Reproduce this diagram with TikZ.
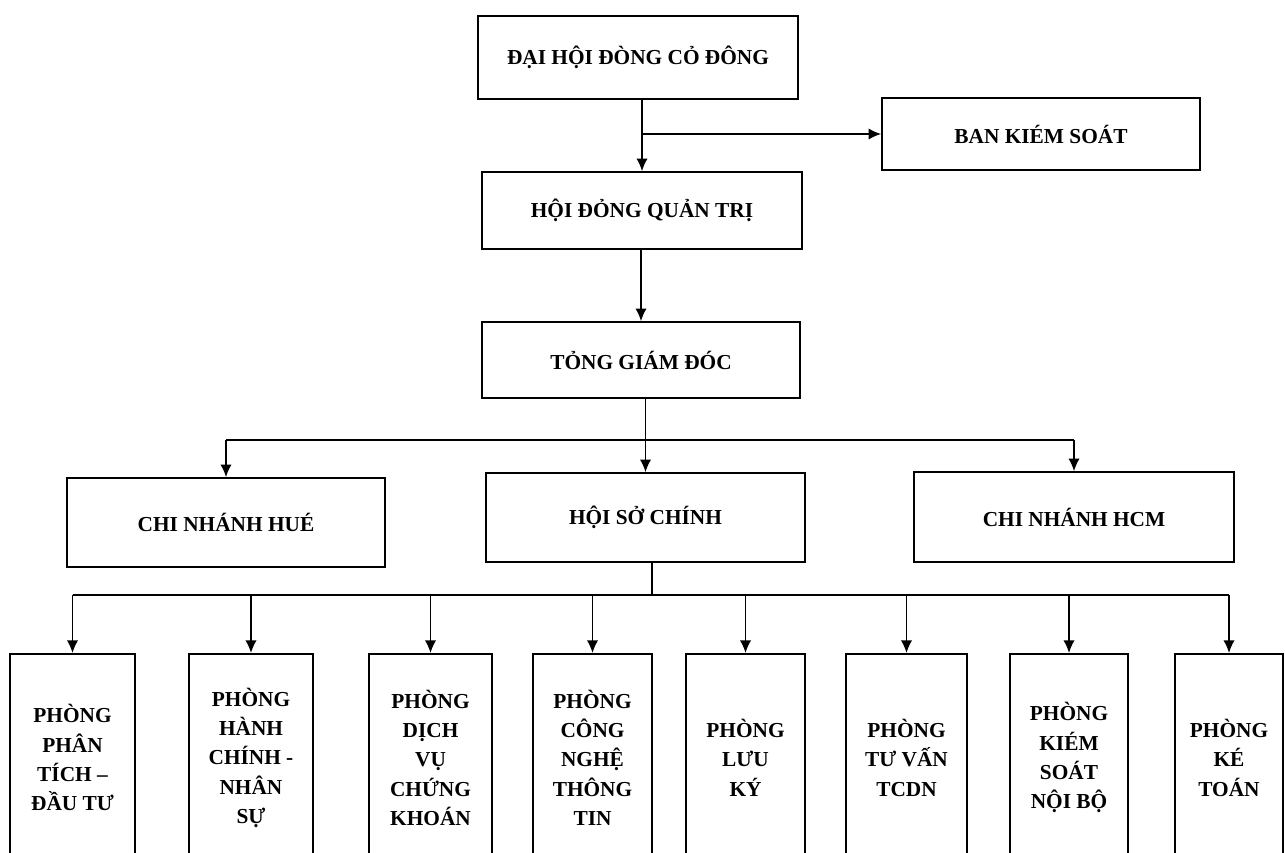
\documentclass[tikz,border=0pt]{standalone}
\usepackage{fontspec}
\setmainfont{Liberation Serif}
\usetikzlibrary{arrows.meta}
\tikzset{every picture/.style={line width=0.75pt}}

\begin{document}
\begin{tikzpicture}[x=0.75pt,y=0.75pt,yscale=-1,xscale=1,
  font=\fontsize{16}{22}\selectfont\bfseries,
  unit/.style={draw,line width=1.2pt,inner sep=0pt,align=center},
  dept/.style={unit,anchor=north,minimum height=156pt},
  arr/.style={line width=1.2pt,-{Latex[length=9.5pt,width=8.5pt]}}]
\useasboundingbox (0,0) rectangle (1285,853);
\clip (0,0) rectangle (1285,853);

%Shape: Rectangle (top levels)
\node[unit,minimum width=240pt,minimum height=62.25pt] (dhcd) at (638,57.5) {ĐẠI HỘI ĐÒNG CỎ ĐÔNG};
\node[unit,minimum width=238.5pt,minimum height=54pt] (bks) at (1041,134) {BAN KIÉM SOÁT};
\node[unit,minimum width=240pt,minimum height=57.75pt] (hdqt) at (642,210.5) {HỘI ĐỎNG QUẢN TRỊ};
\node[unit,minimum width=238.5pt,minimum height=57pt] (tgd) at (641,360) {TỎNG GIÁM ĐÓC};

%Shape: Rectangle (branches)
\node[unit,minimum width=238.5pt,minimum height=66.75pt] (hue) at (226,522.5) {CHI NHÁNH HUÉ};
\node[unit,minimum width=239.25pt,minimum height=66.75pt] (hoso) at (645.5,517.5) {HỘI SỞ CHÍNH};
\node[unit,minimum width=240pt,minimum height=67.5pt] (hcm) at (1074,517) {CHI NHÁNH HCM};

%Shape: Rectangle (departments)
\node[dept,minimum width=93.75pt] (p1) at (72.5,653) {PHÒNG\\PHÂN\\TÍCH –\\ĐẦU TƯ};
\node[dept,minimum width=93pt] (p2) at (251,653) {PHÒNG\\HÀNH\\CHÍNH -\\NHÂN\\SỰ};
\node[dept,minimum width=92.25pt] (p3) at (430.5,653) {PHÒNG\\DỊCH\\VỤ\\CHỨNG\\KHOÁN};
\node[dept,minimum width=89.25pt] (p4) at (592.5,653) {PHÒNG\\CÔNG\\NGHỆ\\THÔNG\\TIN};
\node[dept,minimum width=89.25pt] (p5) at (745.5,653) {PHÒNG\\LƯU\\KÝ};
\node[dept,minimum width=90.75pt] (p6) at (906.5,653) {PHÒNG\\TƯ VẤN\\TCDN};
\node[dept,minimum width=88.5pt] (p7) at (1069,653) {PHÒNG\\KIÉM\\SOÁT\\NỘI BỘ};
\node[dept,minimum width=81pt] (p8) at (1229,653) {PHÒNG\\KÉ\\TOÁN};

%Straight Lines
\draw[arr] (hdqt.north |- dhcd.south) -- (hdqt.north);
\draw[arr] (hdqt.north |- bks.west) -- (bks.west);
\draw[arr] (tgd.north |- hdqt.south) -- (tgd.north);

\coordinate (split) at (645,440);
\draw[arr] (hoso.north |- tgd.south) -- (hoso.north);
\draw[line width=1.2pt] (hue.north |- split) -- (hcm.north |- split);
\draw[arr] (hue.north |- split) -- (hue.north);
\draw[arr] (hcm.north |- split) -- (hcm.north);

\coordinate (bus) at (652,595);
\draw[line width=1.2pt] (hoso.south -| bus) -- (bus);
\draw[line width=1.2pt] (p1.north |- bus) -- (p8.north |- bus);
\foreach \n in {1,...,8}
  \draw[arr] (p\n.north |- bus) -- (p\n.north);

\end{tikzpicture}
\end{document}
